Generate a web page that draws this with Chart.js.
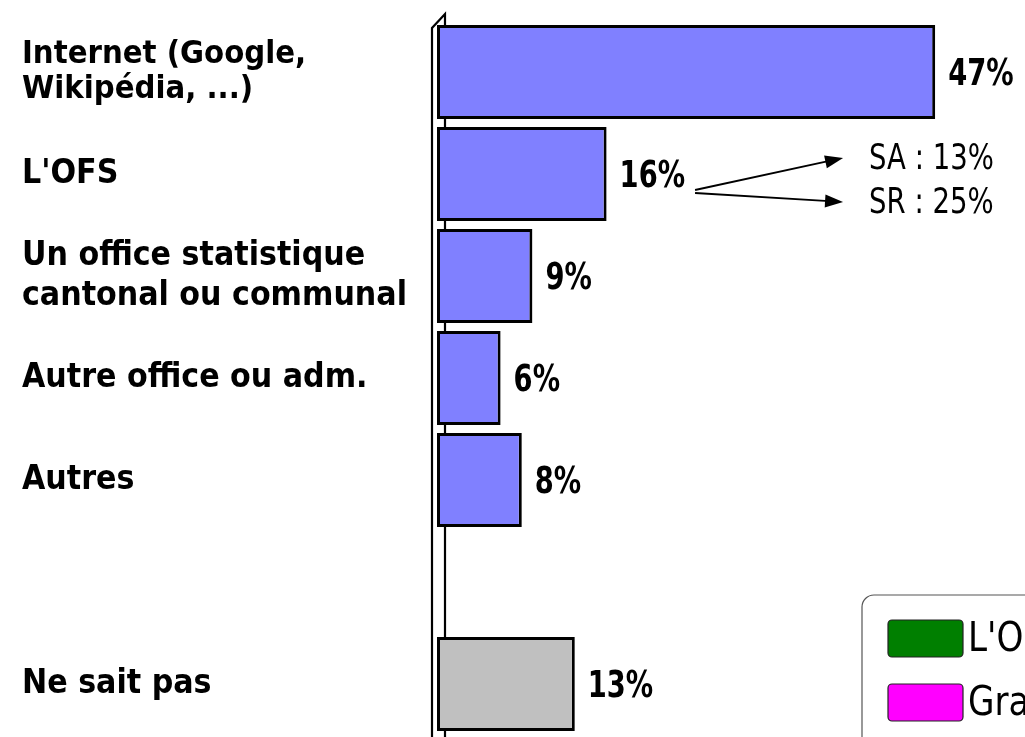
<!DOCTYPE html>
<html>
<head>
<meta charset="utf-8">
<script src="https://cdn.jsdelivr.net/npm/chart.js@4/dist/chart.umd.min.js"></script>
<style>
  html, body { margin: 0; padding: 0; background: #fff; }
  #wrap { width: 1025px; height: 737px; position: relative; overflow: hidden; }
</style>
</head>
<body>
<div id="wrap"><canvas id="c" width="1025" height="737"></canvas></div>
<script>
// Sources d'information statistique — horizontal bars with a 3D-ish wall
const categories = [
    ['Internet (Google,', 'Wikipédia, ...)'],
    "L'OFS",
    ['Un office statistique', 'cantonal ou communal'],
    'Autre office ou adm.',
    'Autres',
    '',
    'Ne sait pas'
];
const shares = [47, 16, 9, 6, 8, null, 13];
const barColors = ['#8080FF', '#8080FF', '#8080FF', '#8080FF', '#8080FF', '#8080FF', '#C0C0C0'];
const ofsDetail = ['SA : 13%', 'SR : 25%'];
const legendLabels = ["L'OFS", 'Grand public'];
const legendColors = ['#007F00', '#FF00FF'];

const FONT = '"DejaVu Sans Condensed", "Liberation Sans Narrow", "Liberation Sans", sans-serif';

// narrow text: draw with a horizontal squeeze
function narrowText(ctx, txt, x, y, sx) {
    ctx.save();
    ctx.translate(x, y);
    ctx.scale(sx, 1);
    ctx.fillText(txt, 0, 0);
    ctx.restore();
}

const extras = {
    id: 'extras',
    beforeDatasetsDraw(chart) {
        // the vertical "wall" behind the bars
        const { ctx, chartArea } = chart;
        const x0 = chartArea.left - 5, x1 = chartArea.left + 8;
        const yTop = chartArea.top + 7;
        ctx.save();
        ctx.strokeStyle = '#000';
        ctx.lineWidth = 2.2;
        ctx.beginPath();
        ctx.moveTo(x0, chart.height);
        ctx.lineTo(x0, yTop);
        ctx.lineTo(x1, yTop - 14);
        ctx.lineTo(x1, chart.height);
        ctx.stroke();
        ctx.restore();
    },
    afterDraw(chart) {
        const { ctx } = chart;
        const bars = chart.getDatasetMeta(0).data;
        ctx.save();
        ctx.fillStyle = '#000';
        ctx.textBaseline = 'middle';
        ctx.textAlign = 'left';
        ctx.font = 'bold 38px ' + FONT;
        bars.forEach((b, i) => {
            if (shares[i] == null) return;
            narrowText(ctx, shares[i] + '%', b.x + 13, b.y + 3, 0.8);
        });

        // OFS breakdown arrows
        const ob = bars[1];
        const lw = ctx.measureText(shares[1] + '%').width * 0.8;
        const sx = ob.x + 13 + lw + 10;
        const ex = sx + 148;
        const targets = [ob.y - 16, ob.y + 28];
        const starts = [ob.y + 16, ob.y + 19];
        ctx.lineWidth = 1.8;
        ctx.strokeStyle = '#000';
        targets.forEach((ty, k) => {
            const sy = starts[k];
            const ang = Math.atan2(ty - sy, ex - sx);
            ctx.beginPath();
            ctx.moveTo(sx, sy);
            ctx.lineTo(ex - 14 * Math.cos(ang), ty - 14 * Math.sin(ang));
            ctx.stroke();
            ctx.beginPath();
            ctx.moveTo(ex, ty);
            ctx.lineTo(ex - 18 * Math.cos(ang) + 6.5 * Math.sin(ang), ty - 18 * Math.sin(ang) - 6.5 * Math.cos(ang));
            ctx.lineTo(ex - 18 * Math.cos(ang) - 6.5 * Math.sin(ang), ty - 18 * Math.sin(ang) + 6.5 * Math.cos(ang));
            ctx.closePath();
            ctx.fill();
        });
        ctx.font = '500 36px ' + FONT;
        ofsDetail.forEach((t, k) => narrowText(ctx, t, ex + 26, targets[k] + 2, 0.85));

        // legend box (runs off the right edge)
        const lx = 862, ly = 595;
        ctx.strokeStyle = '#555';
        ctx.lineWidth = 1.2;
        ctx.beginPath();
        ctx.roundRect(lx, ly, 260, 170, 12);
        ctx.stroke();
        ctx.font = '40px ' + FONT;
        legendLabels.forEach((t, k) => {
            const y = ly + 25 + k * 64;
            ctx.fillStyle = legendColors[k];
            ctx.strokeStyle = '#222';
            ctx.lineWidth = 1.2;
            ctx.beginPath();
            ctx.roundRect(lx + 26, y, 75, 37, 4);
            ctx.fill();
            ctx.stroke();
            ctx.fillStyle = '#000';
            narrowText(ctx, t, lx + 106, y + 21, 0.95);
        });
        ctx.restore();
    }
};

new Chart(document.getElementById('c'), {
    type: 'bar',
    data: {
        labels: categories,
        datasets: [{
            data: shares,
            backgroundColor: barColors,
            borderColor: '#000',
            borderWidth: 3,
            borderSkipped: false,
            categoryPercentage: 1,
            barPercentage: 0.92
        }]
    },
    options: {
        indexAxis: 'y',
        responsive: false,
        animation: false,
        events: [],
        layout: { padding: { left: 22, top: 21, right: 58, bottom: 2 } },
        plugins: { legend: { display: false }, tooltip: { enabled: false } },
        scales: {
            x: { display: false, min: 0, max: 50 },
            y: {
                grid: { display: false, drawTicks: false },
                border: { display: false },
                afterFit(s) { s.width = 415; s.paddingTop = 0; s.paddingBottom = 0; },
                ticks: {
                    autoSkip: false,
                    crossAlign: 'far',
                    padding: 0,
                    color: '#000',
                    font: (c) => ({ family: FONT, weight: 'bold', size: c.index === 0 ? 32.5 : 33.5, lineHeight: c.index === 0 ? 1.05 : 1.2 })
                }
            }
        }
    },
    plugins: [extras]
});
</script>
</body>
</html>
